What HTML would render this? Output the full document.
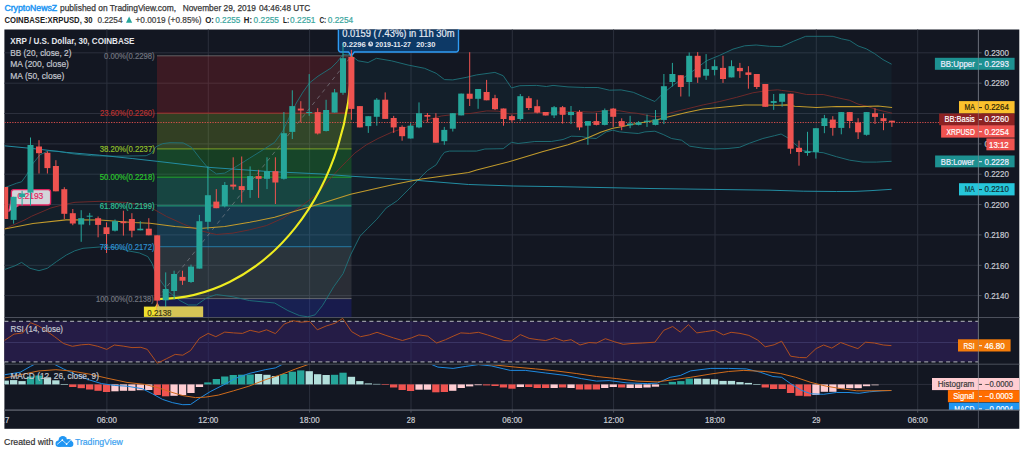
<!DOCTYPE html><html><head><meta charset="utf-8"><title>XRPUSD chart</title>
<style>html,body{margin:0;padding:0;background:#fff;}svg{display:block;font-family:"Liberation Sans",sans-serif;}</style></head><body>
<svg width="1024" height="454" viewBox="0 0 1024 454">
<defs>
<clipPath id="cm"><rect x="4.4" y="29.5" width="974.0" height="288.0"/></clipPath>
<clipPath id="cr"><rect x="4.4" y="317.5" width="974.0" height="46.7"/></clipPath>
<clipPath id="cd"><rect x="4.4" y="364.7" width="1014.9" height="45.4"/></clipPath>
<clipPath id="ca"><rect x="4.4" y="29.5" width="1014.9" height="399.3"/></clipPath>
</defs>
<rect x="0" y="0" width="1024" height="454" fill="#fff"/>
<text x="4.4" y="11.2" font-size="9" fill="#2196f3" font-weight="normal" text-anchor="start" textLength="52.7" lengthAdjust="spacingAndGlyphs" stroke="#2196f3" stroke-width="0.45">CryptoNewsZ</text>
<text x="60.0" y="11.2" font-size="9" fill="#383838" font-weight="normal" text-anchor="start" textLength="116.0" lengthAdjust="spacingAndGlyphs" stroke="#383838" stroke-width="0.25">published on TradingView.com,</text>
<text x="182.7" y="11.2" font-size="9" fill="#383838" font-weight="normal" text-anchor="start" textLength="73.3" lengthAdjust="spacingAndGlyphs" stroke="#383838" stroke-width="0.25">November 29, 2019</text>
<text x="258.9" y="11.2" font-size="9" fill="#383838" font-weight="normal" text-anchor="start" textLength="51.3" lengthAdjust="spacingAndGlyphs" stroke="#383838" stroke-width="0.25">04:46:48 UTC</text>
<text x="4.4" y="22.9" font-size="8.5" fill="#222" font-weight="bold" text-anchor="start" textLength="88.1" lengthAdjust="spacingAndGlyphs">COINBASE:XRPUSD, 30</text>
<text x="97.4" y="22.9" font-size="8.5" fill="#3c3c3c" font-weight="normal" text-anchor="start" textLength="25.1" lengthAdjust="spacingAndGlyphs" stroke="#3c3c3c" stroke-width="0.2">0.2254</text>
<polygon points="126,22.8 129.1,16.6 132.2,22.8" fill="#26a69a"/>
<text x="135.5" y="22.9" font-size="8.5" fill="#3c3c3c" font-weight="normal" text-anchor="start" textLength="66.1" lengthAdjust="spacingAndGlyphs" stroke="#3c3c3c" stroke-width="0.2">+0.0019 (+0.85%)</text>
<text x="205.2" y="22.9" font-size="8.5" fill="#222" font-weight="bold" text-anchor="start" textLength="8.8" lengthAdjust="spacingAndGlyphs">O:</text>
<text x="215.3" y="22.9" font-size="8.5" fill="#3aa69e" font-weight="normal" text-anchor="start" textLength="25.0" lengthAdjust="spacingAndGlyphs" stroke="#3aa69e" stroke-width="0.2">0.2255</text>
<text x="243.8" y="22.9" font-size="8.5" fill="#222" font-weight="bold" text-anchor="start" textLength="8.2" lengthAdjust="spacingAndGlyphs">H:</text>
<text x="253.6" y="22.9" font-size="8.5" fill="#3aa69e" font-weight="normal" text-anchor="start" textLength="25.4" lengthAdjust="spacingAndGlyphs" stroke="#3aa69e" stroke-width="0.2">0.2255</text>
<text x="282.9" y="22.9" font-size="8.5" fill="#222" font-weight="bold" text-anchor="start" textLength="6.2" lengthAdjust="spacingAndGlyphs">L:</text>
<text x="290.1" y="22.9" font-size="8.5" fill="#3aa69e" font-weight="normal" text-anchor="start" textLength="25.4" lengthAdjust="spacingAndGlyphs" stroke="#3aa69e" stroke-width="0.2">0.2251</text>
<text x="319.4" y="22.9" font-size="8.5" fill="#222" font-weight="bold" text-anchor="start" textLength="6.9" lengthAdjust="spacingAndGlyphs">C:</text>
<text x="327.8" y="22.9" font-size="8.5" fill="#3aa69e" font-weight="normal" text-anchor="start" textLength="25.4" lengthAdjust="spacingAndGlyphs" stroke="#3aa69e" stroke-width="0.2">0.2254</text>
<rect x="4.4" y="29.5" width="1014.9" height="399.3" fill="#131722"/>
<g stroke="#2c303d" stroke-width="1">
<line x1="106.9" y1="29.5" x2="106.9" y2="410.1"/>
<line x1="208.3" y1="29.5" x2="208.3" y2="410.1"/>
<line x1="309.6" y1="29.5" x2="309.6" y2="410.1"/>
<line x1="411.0" y1="29.5" x2="411.0" y2="410.1"/>
<line x1="512.3" y1="29.5" x2="512.3" y2="410.1"/>
<line x1="613.6" y1="29.5" x2="613.6" y2="410.1"/>
<line x1="715.0" y1="29.5" x2="715.0" y2="410.1"/>
<line x1="816.3" y1="29.5" x2="816.3" y2="410.1"/>
<line x1="917.7" y1="29.5" x2="917.7" y2="410.1"/>
<line x1="4.4" y1="52.8" x2="978.4" y2="52.8"/>
<line x1="4.4" y1="83.2" x2="978.4" y2="83.2"/>
<line x1="4.4" y1="113.5" x2="978.4" y2="113.5"/>
<line x1="4.4" y1="143.9" x2="978.4" y2="143.9"/>
<line x1="4.4" y1="174.2" x2="978.4" y2="174.2"/>
<line x1="4.4" y1="204.6" x2="978.4" y2="204.6"/>
<line x1="4.4" y1="234.9" x2="978.4" y2="234.9"/>
<line x1="4.4" y1="265.3" x2="978.4" y2="265.3"/>
<line x1="4.4" y1="295.6" x2="978.4" y2="295.6"/>
<line x1="4.4" y1="342.5" x2="978.4" y2="342.5"/>
<line x1="4.4" y1="384.4" x2="978.4" y2="384.4"/>
</g>
<g clip-path="url(#cm)">
<polygon points="4.4,187.8 16.6,183.2 21.6,181.8 26.6,174.9 33.2,163.2 39.9,154.9 48.2,150.8 58.1,151.3 74.8,154.1 91.4,155.7 116.3,156.2 146.2,155.7 151.2,153.3 156.1,146.6 162.8,143.6 170.0,142.7 183.2,142.9 191.5,147.3 199.8,158.1 208.1,168.1 216.4,173.9 224.8,173.1 236.4,166.4 249.7,158.1 263.0,149.8 274.6,142.4 282.9,130.7 291.2,113.3 296.3,103.0 303.0,92.0 309.6,82.8 318.0,76.2 331.2,67.9 337.8,61.2 342.8,54.6 347.8,54.2 351.0,55.5 358.1,60.8 368.1,62.5 376.4,58.3 391.4,60.8 408.0,65.0 424.6,68.3 436.2,73.3 444.5,79.6 452.8,79.9 466.1,77.4 476.6,74.9 494.9,72.4 503.2,75.7 511.5,87.9 519.8,85.7 536.4,85.4 546.4,86.5 553.0,85.4 568.0,86.9 584.6,87.5 597.9,87.5 609.5,90.2 621.1,89.9 633.3,92.3 644.9,97.3 654.9,101.5 663.2,93.2 674.8,84.0 686.4,75.7 694.8,69.6 706.4,60.8 719.7,55.3 733.0,49.1 744.6,45.8 756.2,45.0 769.5,46.3 781.6,46.6 793.3,41.3 805.7,36.3 833.1,36.3 841.4,38.8 849.7,40.5 858.0,45.9 866.3,48.8 874.7,53.7 883.0,59.6 891.6,64.2 891.6,161.3 876.3,162.1 863.0,162.1 849.7,160.2 836.4,156.7 823.2,152.7 813.2,151.9 803.2,150.7 794.9,144.0 788.3,138.2 781.1,134.0 774.5,135.7 762.9,138.5 749.6,143.2 739.6,147.3 728.0,148.5 714.7,149.0 703.1,148.2 689.8,146.2 681.5,140.2 671.5,138.5 663.2,134.5 654.9,131.2 644.9,131.9 638.3,133.5 630.0,132.9 619.5,131.9 612.8,130.2 606.2,131.9 596.2,138.5 587.9,137.9 581.3,136.5 571.3,136.2 563.0,139.5 551.4,141.5 534.8,141.5 518.1,143.5 511.5,142.3 503.2,148.7 484.9,149.0 476.6,151.1 466.1,151.1 449.5,151.1 444.5,152.3 441.2,156.5 436.2,164.8 427.4,170.6 412.4,185.6 397.4,200.6 386.2,208.0 376.8,219.3 367.4,228.7 360.0,236.2 350.6,254.9 343.1,273.6 333.7,286.8 322.5,305.5 315.0,314.9 307.8,316.8 299.5,315.6 287.9,310.6 274.6,303.0 249.7,300.6 233.0,296.8 216.4,294.5 206.5,298.0 196.5,305.0 188.2,305.0 180.0,300.6 168.3,291.5 160.0,280.0 154.5,270.0 152.0,263.3 147.8,256.6 139.5,253.0 128.0,250.8 116.3,247.5 99.7,247.0 83.0,248.3 74.8,250.8 66.4,255.0 56.5,261.6 47.3,268.3 39.0,270.7 30.0,268.3 21.6,262.4 15.0,265.8 4.4,269.6" fill="#1f9aa8" fill-opacity="0.065"/>
<path d="M155,307 L157.4,302.5 L159.8,307 Z" fill="#efe02f"/>
<rect x="143.9" y="306.6" width="59.2" height="10.3" fill="#efe02f"/>
<rect x="157.0" y="55.8" width="194.5" height="57.3" fill="rgb(204,40,40)" fill-opacity="0.22"/>
<rect x="157.0" y="113.1" width="194.5" height="35.7" fill="rgb(165,208,40)" fill-opacity="0.22"/>
<rect x="157.0" y="148.9" width="194.5" height="28.4" fill="rgb(40,204,40)" fill-opacity="0.22"/>
<rect x="157.0" y="177.2" width="194.5" height="28.7" fill="rgb(40,204,149)" fill-opacity="0.22"/>
<rect x="157.0" y="205.9" width="194.5" height="40.8" fill="rgb(40,149,204)" fill-opacity="0.22"/>
<rect x="157.0" y="246.7" width="194.5" height="52.0" fill="rgb(128,128,128)" fill-opacity="0.22"/>
<rect x="157.0" y="298.6" width="194.5" height="18.9" fill="rgb(40,40,204)" fill-opacity="0.25"/>
<line x1="157.0" y1="55.8" x2="351.5" y2="55.8" stroke="rgb(128,128,128)" stroke-width="1" stroke-opacity="0.7"/>
<line x1="157.0" y1="113.1" x2="351.5" y2="113.1" stroke="rgb(204,40,40)" stroke-width="1" stroke-opacity="0.7"/>
<line x1="157.0" y1="148.9" x2="351.5" y2="148.9" stroke="rgb(165,208,40)" stroke-width="1" stroke-opacity="0.7"/>
<line x1="157.0" y1="177.2" x2="351.5" y2="177.2" stroke="rgb(40,204,40)" stroke-width="1" stroke-opacity="0.7"/>
<line x1="157.0" y1="205.9" x2="351.5" y2="205.9" stroke="rgb(40,204,149)" stroke-width="1" stroke-opacity="0.7"/>
<line x1="157.0" y1="246.7" x2="351.5" y2="246.7" stroke="rgb(40,149,204)" stroke-width="1" stroke-opacity="0.7"/>
<line x1="157.0" y1="298.6" x2="351.5" y2="298.6" stroke="rgb(128,128,128)" stroke-width="1" stroke-opacity="0.7"/>
<line x1="157.3" y1="298.6" x2="351.5" y2="56" stroke="#8a8d96" stroke-width="1" stroke-dasharray="4,4" stroke-opacity="0.6"/>
<line x1="4.4" y1="122.5" x2="978.4" y2="122.5" stroke="#ef5350" stroke-opacity="0.85" stroke-width="1" stroke-dasharray="1.3,1.3"/>
<polyline points="4.4,187.8 16.6,183.2 21.6,181.8 26.6,174.9 33.2,163.2 39.9,154.9 48.2,150.8 58.1,151.3 74.8,154.1 91.4,155.7 116.3,156.2 146.2,155.7 151.2,153.3 156.1,146.6 162.8,143.6 170.0,142.7 183.2,142.9 191.5,147.3 199.8,158.1 208.1,168.1 216.4,173.9 224.8,173.1 236.4,166.4 249.7,158.1 263.0,149.8 274.6,142.4 282.9,130.7 291.2,113.3 296.3,103.0 303.0,92.0 309.6,82.8 318.0,76.2 331.2,67.9 337.8,61.2 342.8,54.6 347.8,54.2 351.0,55.5 358.1,60.8 368.1,62.5 376.4,58.3 391.4,60.8 408.0,65.0 424.6,68.3 436.2,73.3 444.5,79.6 452.8,79.9 466.1,77.4 476.6,74.9 494.9,72.4 503.2,75.7 511.5,87.9 519.8,85.7 536.4,85.4 546.4,86.5 553.0,85.4 568.0,86.9 584.6,87.5 597.9,87.5 609.5,90.2 621.1,89.9 633.3,92.3 644.9,97.3 654.9,101.5 663.2,93.2 674.8,84.0 686.4,75.7 694.8,69.6 706.4,60.8 719.7,55.3 733.0,49.1 744.6,45.8 756.2,45.0 769.5,46.3 781.6,46.6 793.3,41.3 805.7,36.3 833.1,36.3 841.4,38.8 849.7,40.5 858.0,45.9 866.3,48.8 874.7,53.7 883.0,59.6 891.6,64.2" fill="none" stroke="#1f747c" stroke-width="0.9"/>
<polyline points="4.4,269.6 15.0,265.8 21.6,262.4 30.0,268.3 39.0,270.7 47.3,268.3 56.5,261.6 66.4,255.0 74.8,250.8 83.0,248.3 99.7,247.0 116.3,247.5 128.0,250.8 139.5,253.0 147.8,256.6 152.0,263.3 154.5,270.0 160.0,280.0 168.3,291.5 180.0,300.6 188.2,305.0 196.5,305.0 206.5,298.0 216.4,294.5 233.0,296.8 249.7,300.6 274.6,303.0 287.9,310.6 299.5,315.6 307.8,316.8 315.0,314.9 322.5,305.5 333.7,286.8 343.1,273.6 350.6,254.9 360.0,236.2 367.4,228.7 376.8,219.3 386.2,208.0 397.4,200.6 412.4,185.6 427.4,170.6 436.2,164.8 441.2,156.5 444.5,152.3 449.5,151.1 466.1,151.1 476.6,151.1 484.9,149.0 503.2,148.7 511.5,142.3 518.1,143.5 534.8,141.5 551.4,141.5 563.0,139.5 571.3,136.2 581.3,136.5 587.9,137.9 596.2,138.5 606.2,131.9 612.8,130.2 619.5,131.9 630.0,132.9 638.3,133.5 644.9,131.9 654.9,131.2 663.2,134.5 671.5,138.5 681.5,140.2 689.8,146.2 703.1,148.2 714.7,149.0 728.0,148.5 739.6,147.3 749.6,143.2 762.9,138.5 774.5,135.7 781.1,134.0 788.3,138.2 794.9,144.0 803.2,150.7 813.2,151.9 823.2,152.7 836.4,156.7 849.7,160.2 863.0,162.1 876.3,162.1 891.6,161.3" fill="none" stroke="#1f747c" stroke-width="0.9"/>
<polyline points="4.4,229.0 8.5,227.1 25.0,219.8 31.7,216.2 50.8,208.0 64.0,204.5 75.0,202.3 100.0,201.3 125.0,202.4 150.0,205.7 153.3,209.0 166.6,216.5 183.2,224.0 199.8,230.6 216.4,234.5 233.0,233.1 249.7,229.8 266.3,225.6 282.9,218.2 299.5,207.4 316.0,195.0 329.0,180.0 338.2,170.0 346.5,161.4 354.8,153.1 366.4,144.8 378.0,138.5 391.4,132.4 408.0,126.6 424.6,120.7 441.2,116.0 457.8,114.0 470.0,113.5 486.6,110.9 498.2,111.2 509.8,114.0 526.4,113.0 543.1,112.6 576.3,111.5 592.9,112.2 609.5,110.3 619.5,110.8 630.0,112.6 636.6,113.2 653.2,116.6 659.9,116.3 669.8,113.0 686.4,109.0 703.1,104.9 719.7,101.5 736.3,97.4 752.9,92.8 766.2,90.7 777.8,89.8 781.6,90.4 794.9,92.0 806.5,94.5 823.2,94.5 836.4,97.5 849.7,100.3 858.0,104.1 866.3,106.1 878.0,109.9 892.1,113.2" fill="none" stroke="#762a2a" stroke-width="0.9"/>
<polyline points="4.4,145.8 33.2,148.6 66.4,152.4 99.7,155.2 132.9,158.6 157.8,161.4 208.1,167.3 266.3,171.4 320.0,173.9 350.6,176.2 412.4,180.0 468.6,184.5 513.6,186.0 560.0,186.7 650.0,188.5 770.0,190.2 803.2,191.2 836.4,191.5 855.0,191.4 870.0,190.7 891.6,189.3" fill="none" stroke="#238da2" stroke-width="1"/>
<polyline points="4.4,229.0 33.0,223.5 66.0,219.9 100.0,220.0 133.0,222.4 150.0,223.2 175.0,226.5 199.8,228.5 224.8,226.5 249.7,222.3 274.6,217.3 300.0,209.8 322.0,203.3 350.6,194.2 393.7,184.5 419.9,179.2 468.6,172.5 476.6,170.0 513.2,160.6 543.1,151.5 568.0,144.8 586.2,138.5 601.2,131.9 612.8,128.2 620.0,126.9 636.6,123.6 653.2,120.7 669.8,116.6 686.4,112.4 703.1,109.1 719.7,107.5 744.6,105.0 761.2,105.0 777.8,105.2 786.6,104.9 794.9,106.3 816.5,107.4 836.4,106.6 861.4,106.6 878.0,106.1 892.1,107.4" fill="none" stroke="#c29b2c" stroke-width="1.05"/>
<path d="M11.4,198 L8.7,211.5 L19,205.6 Z" fill="#d2d5da" stroke="#e3245f" stroke-width="1"/>
<rect x="11.4" y="189.6" width="39.2" height="15.4" rx="2.5" fill="#d2d5da" stroke="#e3245f" stroke-width="1.3"/>
<text x="17.5" y="199.4" font-size="9" fill="#e3245f" font-weight="normal" text-anchor="start" textLength="25.8" lengthAdjust="spacingAndGlyphs" stroke="#e3245f" stroke-width="0.2">0.2193</text>
<path d="M158.5,299 A193,242 0 0 0 351.5,57" fill="none" stroke="#eeec20" stroke-width="2.1" stroke-linecap="round"/>
<path d="M340.9,24 H456 a2.5,2.5 0 0 1 2.5,2.5 V49.5 a2.5,2.5 0 0 1 -2.5,2.5 H354.3 L351.4,56 L348.5,52 H340.9 a2.5,2.5 0 0 1 -2.5,-2.5 V26.5 a2.5,2.5 0 0 1 2.5,-2.5 Z" fill="#0d3966" stroke="#2f9cf5" stroke-width="1.4"/>
<text x="342.3" y="36.8" font-size="10" fill="#e4e9f2" font-weight="normal" text-anchor="start" textLength="112.3" lengthAdjust="spacingAndGlyphs" stroke="#e4e9f2" stroke-width="0.2">0.0159 (7.43%) in 11h 30m</text>
<text x="342.3" y="46.8" font-size="8" fill="#e4e9f2" font-weight="bold" text-anchor="start" textLength="23.5" lengthAdjust="spacingAndGlyphs">0.2296</text>
<circle cx="370.6" cy="44" r="2.5" fill="#cfd6e2"/><path d="M370.6,42.3 V44 H372" stroke="#0d3966" stroke-width="0.8" fill="none"/>
<text x="375.3" y="46.8" font-size="8" fill="#e4e9f2" font-weight="bold" text-anchor="start" textLength="35.7" lengthAdjust="spacingAndGlyphs">2019-11-27</text>
<text x="416.2" y="46.8" font-size="8" fill="#e4e9f2" font-weight="bold" text-anchor="start" textLength="19.1" lengthAdjust="spacingAndGlyphs">20:30</text>
<line x1="5.2" y1="187.0" x2="5.2" y2="219.0" stroke="#ef5350" stroke-width="1"/>
<rect x="2.2" y="187.0" width="6" height="32.0" fill="#ef5350"/>
<line x1="13.6" y1="196.8" x2="13.6" y2="223.7" stroke="#26a69a" stroke-width="1"/>
<rect x="10.6" y="196.8" width="6" height="23.1" fill="#26a69a"/>
<line x1="22.1" y1="190.8" x2="22.1" y2="205.6" stroke="#26a69a" stroke-width="1"/>
<rect x="19.1" y="193.5" width="6" height="3.5" fill="#26a69a"/>
<line x1="30.5" y1="137.5" x2="30.5" y2="205.6" stroke="#26a69a" stroke-width="1"/>
<rect x="27.5" y="145.0" width="6" height="47.6" fill="#26a69a"/>
<line x1="39.0" y1="140.2" x2="39.0" y2="173.5" stroke="#ef5350" stroke-width="1"/>
<rect x="36.0" y="146.5" width="6" height="6.7" fill="#ef5350"/>
<line x1="47.4" y1="151.3" x2="47.4" y2="173.5" stroke="#ef5350" stroke-width="1"/>
<rect x="44.4" y="152.8" width="6" height="15.3" fill="#ef5350"/>
<line x1="55.9" y1="160.2" x2="55.9" y2="191.3" stroke="#ef5350" stroke-width="1"/>
<rect x="52.9" y="166.0" width="6" height="25.3" fill="#ef5350"/>
<line x1="64.3" y1="187.2" x2="64.3" y2="219.0" stroke="#ef5350" stroke-width="1"/>
<rect x="61.3" y="189.2" width="6" height="24.6" fill="#ef5350"/>
<line x1="72.8" y1="209.0" x2="72.8" y2="225.2" stroke="#ef5350" stroke-width="1"/>
<rect x="69.8" y="213.2" width="6" height="10.3" fill="#ef5350"/>
<line x1="81.2" y1="210.2" x2="81.2" y2="241.8" stroke="#26a69a" stroke-width="1"/>
<rect x="78.2" y="218.2" width="6" height="6.3" fill="#26a69a"/>
<line x1="89.7" y1="212.9" x2="89.7" y2="225.2" stroke="#26a69a" stroke-width="1"/>
<rect x="86.7" y="215.7" width="6" height="1.0" fill="#26a69a"/>
<line x1="98.1" y1="216.5" x2="98.1" y2="237.3" stroke="#ef5350" stroke-width="1"/>
<rect x="95.1" y="218.2" width="6" height="6.7" fill="#ef5350"/>
<line x1="106.5" y1="222.4" x2="106.5" y2="253.0" stroke="#ef5350" stroke-width="1"/>
<rect x="103.5" y="227.3" width="6" height="6.7" fill="#ef5350"/>
<line x1="115.0" y1="219.5" x2="115.0" y2="231.5" stroke="#26a69a" stroke-width="1"/>
<rect x="112.0" y="221.2" width="6" height="9.5" fill="#26a69a"/>
<line x1="123.4" y1="210.7" x2="123.4" y2="235.6" stroke="#ef5350" stroke-width="1"/>
<rect x="120.4" y="221.5" width="6" height="1.7" fill="#ef5350"/>
<line x1="131.9" y1="213.2" x2="131.9" y2="237.3" stroke="#ef5350" stroke-width="1"/>
<rect x="128.9" y="219.0" width="6" height="11.7" fill="#ef5350"/>
<line x1="140.3" y1="221.2" x2="140.3" y2="230.3" stroke="#26a69a" stroke-width="1"/>
<rect x="137.3" y="228.7" width="6" height="1.6" fill="#26a69a"/>
<line x1="148.8" y1="218.2" x2="148.8" y2="235.3" stroke="#ef5350" stroke-width="1"/>
<rect x="145.8" y="228.7" width="6" height="6.6" fill="#ef5350"/>
<line x1="157.2" y1="235.3" x2="157.2" y2="310.0" stroke="#ef5350" stroke-width="1"/>
<rect x="154.2" y="235.3" width="6" height="65.3" fill="#ef5350"/>
<line x1="165.7" y1="272.4" x2="165.7" y2="310.6" stroke="#26a69a" stroke-width="1"/>
<rect x="162.7" y="289.0" width="6" height="11.3" fill="#26a69a"/>
<line x1="174.1" y1="270.7" x2="174.1" y2="299.5" stroke="#26a69a" stroke-width="1"/>
<rect x="171.1" y="274.0" width="6" height="17.0" fill="#26a69a"/>
<line x1="182.5" y1="270.7" x2="182.5" y2="284.9" stroke="#ef5350" stroke-width="1"/>
<rect x="179.5" y="276.9" width="6" height="3.8" fill="#ef5350"/>
<line x1="191.0" y1="264.6" x2="191.0" y2="282.9" stroke="#26a69a" stroke-width="1"/>
<rect x="188.0" y="266.6" width="6" height="15.4" fill="#26a69a"/>
<line x1="199.4" y1="214.9" x2="199.4" y2="268.6" stroke="#26a69a" stroke-width="1"/>
<rect x="196.4" y="221.2" width="6" height="47.4" fill="#26a69a"/>
<line x1="207.9" y1="166.4" x2="207.9" y2="229.8" stroke="#26a69a" stroke-width="1"/>
<rect x="204.9" y="195.2" width="6" height="26.6" fill="#26a69a"/>
<line x1="216.3" y1="189.1" x2="216.3" y2="208.2" stroke="#ef5350" stroke-width="1"/>
<rect x="213.3" y="201.6" width="6" height="6.6" fill="#ef5350"/>
<line x1="224.8" y1="182.0" x2="224.8" y2="207.4" stroke="#26a69a" stroke-width="1"/>
<rect x="221.8" y="185.0" width="6" height="21.2" fill="#26a69a"/>
<line x1="233.2" y1="157.3" x2="233.2" y2="189.6" stroke="#ef5350" stroke-width="1"/>
<rect x="230.2" y="184.6" width="6" height="2.0" fill="#ef5350"/>
<line x1="241.7" y1="156.5" x2="241.7" y2="202.7" stroke="#ef5350" stroke-width="1"/>
<rect x="238.7" y="186.1" width="6" height="3.9" fill="#ef5350"/>
<line x1="250.1" y1="166.4" x2="250.1" y2="197.9" stroke="#26a69a" stroke-width="1"/>
<rect x="247.1" y="176.1" width="6" height="13.9" fill="#26a69a"/>
<line x1="258.6" y1="169.8" x2="258.6" y2="197.9" stroke="#ef5350" stroke-width="1"/>
<rect x="255.6" y="176.1" width="6" height="2.7" fill="#ef5350"/>
<line x1="267.0" y1="157.3" x2="267.0" y2="189.1" stroke="#26a69a" stroke-width="1"/>
<rect x="264.0" y="171.2" width="6" height="7.6" fill="#26a69a"/>
<line x1="275.4" y1="157.3" x2="275.4" y2="204.0" stroke="#ef5350" stroke-width="1"/>
<rect x="272.4" y="171.2" width="6" height="11.3" fill="#ef5350"/>
<line x1="283.9" y1="112.0" x2="283.9" y2="179.6" stroke="#26a69a" stroke-width="1"/>
<rect x="280.9" y="133.2" width="6" height="45.6" fill="#26a69a"/>
<line x1="292.3" y1="90.3" x2="292.3" y2="139.0" stroke="#26a69a" stroke-width="1"/>
<rect x="289.3" y="106.1" width="6" height="25.8" fill="#26a69a"/>
<line x1="300.8" y1="101.2" x2="300.8" y2="122.4" stroke="#ef5350" stroke-width="1"/>
<rect x="297.8" y="108.6" width="6" height="1.9" fill="#ef5350"/>
<line x1="309.2" y1="74.1" x2="309.2" y2="115.8" stroke="#26a69a" stroke-width="1"/>
<rect x="306.2" y="112.0" width="6" height="1.0" fill="#26a69a"/>
<line x1="317.7" y1="108.2" x2="317.7" y2="134.5" stroke="#ef5350" stroke-width="1"/>
<rect x="314.7" y="112.1" width="6" height="21.4" fill="#ef5350"/>
<line x1="326.1" y1="99.8" x2="326.1" y2="131.5" stroke="#26a69a" stroke-width="1"/>
<rect x="323.1" y="110.0" width="6" height="21.0" fill="#26a69a"/>
<line x1="334.6" y1="89.0" x2="334.6" y2="112.6" stroke="#26a69a" stroke-width="1"/>
<rect x="331.6" y="92.4" width="6" height="20.2" fill="#26a69a"/>
<line x1="343.0" y1="43.5" x2="343.0" y2="94.8" stroke="#26a69a" stroke-width="1"/>
<rect x="340.0" y="58.2" width="6" height="34.6" fill="#26a69a"/>
<line x1="351.4" y1="49.8" x2="351.4" y2="119.8" stroke="#ef5350" stroke-width="1"/>
<rect x="348.4" y="57.0" width="6" height="51.9" fill="#ef5350"/>
<line x1="359.9" y1="106.1" x2="359.9" y2="127.4" stroke="#ef5350" stroke-width="1"/>
<rect x="356.9" y="106.1" width="6" height="21.3" fill="#ef5350"/>
<line x1="368.3" y1="116.2" x2="368.3" y2="132.9" stroke="#26a69a" stroke-width="1"/>
<rect x="365.3" y="116.2" width="6" height="9.9" fill="#26a69a"/>
<line x1="376.8" y1="98.1" x2="376.8" y2="125.7" stroke="#26a69a" stroke-width="1"/>
<rect x="373.8" y="99.7" width="6" height="17.1" fill="#26a69a"/>
<line x1="385.2" y1="92.4" x2="385.2" y2="118.9" stroke="#ef5350" stroke-width="1"/>
<rect x="382.2" y="99.7" width="6" height="19.2" fill="#ef5350"/>
<line x1="393.7" y1="115.9" x2="393.7" y2="132.9" stroke="#ef5350" stroke-width="1"/>
<rect x="390.7" y="118.0" width="6" height="9.4" fill="#ef5350"/>
<line x1="402.1" y1="125.4" x2="402.1" y2="140.7" stroke="#ef5350" stroke-width="1"/>
<rect x="399.1" y="126.9" width="6" height="9.3" fill="#ef5350"/>
<line x1="410.6" y1="123.2" x2="410.6" y2="138.5" stroke="#26a69a" stroke-width="1"/>
<rect x="407.6" y="125.7" width="6" height="12.8" fill="#26a69a"/>
<line x1="419.0" y1="102.4" x2="419.0" y2="128.2" stroke="#26a69a" stroke-width="1"/>
<rect x="416.0" y="113.2" width="6" height="14.2" fill="#26a69a"/>
<line x1="427.4" y1="113.0" x2="427.4" y2="122.4" stroke="#ef5350" stroke-width="1"/>
<rect x="424.4" y="115.0" width="6" height="1.7" fill="#ef5350"/>
<line x1="435.9" y1="113.2" x2="435.9" y2="142.7" stroke="#ef5350" stroke-width="1"/>
<rect x="432.9" y="118.0" width="6" height="24.7" fill="#ef5350"/>
<line x1="444.3" y1="126.9" x2="444.3" y2="144.8" stroke="#26a69a" stroke-width="1"/>
<rect x="441.3" y="129.9" width="6" height="11.3" fill="#26a69a"/>
<line x1="452.8" y1="113.2" x2="452.8" y2="131.5" stroke="#26a69a" stroke-width="1"/>
<rect x="449.8" y="113.2" width="6" height="15.5" fill="#26a69a"/>
<line x1="461.2" y1="93.6" x2="461.2" y2="115.4" stroke="#26a69a" stroke-width="1"/>
<rect x="458.2" y="93.6" width="6" height="21.8" fill="#26a69a"/>
<line x1="469.7" y1="52.2" x2="469.7" y2="106.0" stroke="#ef5350" stroke-width="1"/>
<rect x="466.7" y="93.7" width="6" height="5.1" fill="#ef5350"/>
<line x1="478.1" y1="89.0" x2="478.1" y2="108.8" stroke="#26a69a" stroke-width="1"/>
<rect x="475.1" y="89.0" width="6" height="9.8" fill="#26a69a"/>
<line x1="486.6" y1="79.9" x2="486.6" y2="100.3" stroke="#ef5350" stroke-width="1"/>
<rect x="483.6" y="92.0" width="6" height="8.3" fill="#ef5350"/>
<line x1="495.0" y1="94.8" x2="495.0" y2="110.1" stroke="#ef5350" stroke-width="1"/>
<rect x="492.0" y="98.2" width="6" height="11.0" fill="#ef5350"/>
<line x1="503.5" y1="108.5" x2="503.5" y2="125.7" stroke="#ef5350" stroke-width="1"/>
<rect x="500.5" y="108.5" width="6" height="10.5" fill="#ef5350"/>
<line x1="511.9" y1="114.7" x2="511.9" y2="121.9" stroke="#ef5350" stroke-width="1"/>
<rect x="508.9" y="116.1" width="6" height="4.1" fill="#ef5350"/>
<line x1="520.3" y1="94.0" x2="520.3" y2="120.7" stroke="#26a69a" stroke-width="1"/>
<rect x="517.3" y="96.2" width="6" height="22.8" fill="#26a69a"/>
<line x1="528.8" y1="96.2" x2="528.8" y2="110.0" stroke="#ef5350" stroke-width="1"/>
<rect x="525.8" y="98.2" width="6" height="9.8" fill="#ef5350"/>
<line x1="537.2" y1="99.7" x2="537.2" y2="113.4" stroke="#ef5350" stroke-width="1"/>
<rect x="534.2" y="106.2" width="6" height="6.4" fill="#ef5350"/>
<line x1="545.7" y1="112.0" x2="545.7" y2="115.5" stroke="#ef5350" stroke-width="1"/>
<rect x="542.7" y="112.0" width="6" height="3.5" fill="#ef5350"/>
<line x1="554.1" y1="106.0" x2="554.1" y2="118.0" stroke="#26a69a" stroke-width="1"/>
<rect x="551.1" y="107.2" width="6" height="8.2" fill="#26a69a"/>
<line x1="562.6" y1="106.0" x2="562.6" y2="123.6" stroke="#ef5350" stroke-width="1"/>
<rect x="559.6" y="107.2" width="6" height="7.6" fill="#ef5350"/>
<line x1="571.0" y1="106.0" x2="571.0" y2="124.0" stroke="#26a69a" stroke-width="1"/>
<rect x="568.0" y="112.0" width="6" height="3.1" fill="#26a69a"/>
<line x1="579.5" y1="110.1" x2="579.5" y2="130.2" stroke="#ef5350" stroke-width="1"/>
<rect x="576.5" y="112.0" width="6" height="15.4" fill="#ef5350"/>
<line x1="587.9" y1="121.1" x2="587.9" y2="144.8" stroke="#26a69a" stroke-width="1"/>
<rect x="584.9" y="121.1" width="6" height="4.6" fill="#26a69a"/>
<line x1="596.4" y1="112.9" x2="596.4" y2="125.4" stroke="#ef5350" stroke-width="1"/>
<rect x="593.4" y="121.1" width="6" height="3.8" fill="#ef5350"/>
<line x1="604.8" y1="108.5" x2="604.8" y2="125.4" stroke="#26a69a" stroke-width="1"/>
<rect x="601.8" y="110.2" width="6" height="14.7" fill="#26a69a"/>
<line x1="613.2" y1="108.0" x2="613.2" y2="126.9" stroke="#ef5350" stroke-width="1"/>
<rect x="610.2" y="108.6" width="6" height="8.2" fill="#ef5350"/>
<line x1="621.7" y1="118.3" x2="621.7" y2="130.2" stroke="#ef5350" stroke-width="1"/>
<rect x="618.7" y="121.1" width="6" height="5.1" fill="#ef5350"/>
<line x1="630.1" y1="115.8" x2="630.1" y2="128.2" stroke="#26a69a" stroke-width="1"/>
<rect x="627.1" y="123.5" width="6" height="1.8" fill="#26a69a"/>
<line x1="638.6" y1="121.1" x2="638.6" y2="125.4" stroke="#26a69a" stroke-width="1"/>
<rect x="635.6" y="122.4" width="6" height="2.5" fill="#26a69a"/>
<line x1="647.0" y1="114.6" x2="647.0" y2="126.9" stroke="#26a69a" stroke-width="1"/>
<rect x="644.0" y="120.7" width="6" height="1.2" fill="#26a69a"/>
<line x1="655.5" y1="110.0" x2="655.5" y2="125.4" stroke="#26a69a" stroke-width="1"/>
<rect x="652.5" y="119.4" width="6" height="5.5" fill="#26a69a"/>
<line x1="663.9" y1="74.0" x2="663.9" y2="124.1" stroke="#26a69a" stroke-width="1"/>
<rect x="660.9" y="86.2" width="6" height="33.7" fill="#26a69a"/>
<line x1="672.4" y1="62.9" x2="672.4" y2="86.5" stroke="#26a69a" stroke-width="1"/>
<rect x="669.4" y="74.0" width="6" height="8.0" fill="#26a69a"/>
<line x1="680.8" y1="75.2" x2="680.8" y2="96.5" stroke="#ef5350" stroke-width="1"/>
<rect x="677.8" y="75.2" width="6" height="11.8" fill="#ef5350"/>
<line x1="689.2" y1="52.5" x2="689.2" y2="96.5" stroke="#26a69a" stroke-width="1"/>
<rect x="686.2" y="55.8" width="6" height="26.2" fill="#26a69a"/>
<line x1="697.7" y1="52.1" x2="697.7" y2="82.9" stroke="#ef5350" stroke-width="1"/>
<rect x="694.7" y="55.8" width="6" height="21.6" fill="#ef5350"/>
<line x1="706.1" y1="54.1" x2="706.1" y2="79.9" stroke="#26a69a" stroke-width="1"/>
<rect x="703.1" y="69.1" width="6" height="6.6" fill="#26a69a"/>
<line x1="714.6" y1="59.6" x2="714.6" y2="75.4" stroke="#26a69a" stroke-width="1"/>
<rect x="711.6" y="66.2" width="6" height="3.7" fill="#26a69a"/>
<line x1="723.0" y1="55.8" x2="723.0" y2="82.9" stroke="#ef5350" stroke-width="1"/>
<rect x="720.0" y="67.9" width="6" height="11.1" fill="#ef5350"/>
<line x1="731.5" y1="60.3" x2="731.5" y2="77.4" stroke="#26a69a" stroke-width="1"/>
<rect x="728.5" y="66.2" width="6" height="11.2" fill="#26a69a"/>
<line x1="739.9" y1="62.9" x2="739.9" y2="77.9" stroke="#ef5350" stroke-width="1"/>
<rect x="736.9" y="67.9" width="6" height="3.3" fill="#ef5350"/>
<line x1="748.4" y1="66.2" x2="748.4" y2="88.7" stroke="#ef5350" stroke-width="1"/>
<rect x="745.4" y="72.4" width="6" height="2.5" fill="#ef5350"/>
<line x1="756.8" y1="74.0" x2="756.8" y2="89.0" stroke="#ef5350" stroke-width="1"/>
<rect x="753.8" y="74.0" width="6" height="13.0" fill="#ef5350"/>
<line x1="765.3" y1="84.0" x2="765.3" y2="106.8" stroke="#ef5350" stroke-width="1"/>
<rect x="762.3" y="84.0" width="6" height="22.8" fill="#ef5350"/>
<line x1="773.7" y1="94.0" x2="773.7" y2="109.9" stroke="#26a69a" stroke-width="1"/>
<rect x="770.7" y="101.1" width="6" height="1.8" fill="#26a69a"/>
<line x1="782.1" y1="93.7" x2="782.1" y2="106.7" stroke="#26a69a" stroke-width="1"/>
<rect x="779.1" y="93.7" width="6" height="8.1" fill="#26a69a"/>
<line x1="790.6" y1="93.7" x2="790.6" y2="153.8" stroke="#ef5350" stroke-width="1"/>
<rect x="787.6" y="93.7" width="6" height="55.0" fill="#ef5350"/>
<line x1="799.0" y1="140.6" x2="799.0" y2="165.7" stroke="#ef5350" stroke-width="1"/>
<rect x="796.0" y="147.8" width="6" height="4.2" fill="#ef5350"/>
<line x1="807.5" y1="131.8" x2="807.5" y2="155.7" stroke="#26a69a" stroke-width="1"/>
<rect x="804.5" y="151.2" width="6" height="1.8" fill="#26a69a"/>
<line x1="815.9" y1="128.2" x2="815.9" y2="158.6" stroke="#26a69a" stroke-width="1"/>
<rect x="812.9" y="128.2" width="6" height="23.8" fill="#26a69a"/>
<line x1="824.4" y1="114.9" x2="824.4" y2="133.2" stroke="#26a69a" stroke-width="1"/>
<rect x="821.4" y="118.2" width="6" height="7.8" fill="#26a69a"/>
<line x1="832.8" y1="116.2" x2="832.8" y2="135.7" stroke="#ef5350" stroke-width="1"/>
<rect x="829.8" y="119.6" width="6" height="8.3" fill="#ef5350"/>
<line x1="841.3" y1="112.1" x2="841.3" y2="134.3" stroke="#26a69a" stroke-width="1"/>
<rect x="838.3" y="112.1" width="6" height="15.8" fill="#26a69a"/>
<line x1="849.7" y1="112.1" x2="849.7" y2="128.2" stroke="#ef5350" stroke-width="1"/>
<rect x="846.7" y="112.1" width="6" height="8.9" fill="#ef5350"/>
<line x1="858.1" y1="118.2" x2="858.1" y2="139.0" stroke="#ef5350" stroke-width="1"/>
<rect x="855.1" y="122.4" width="6" height="9.9" fill="#ef5350"/>
<line x1="866.6" y1="112.1" x2="866.6" y2="135.7" stroke="#26a69a" stroke-width="1"/>
<rect x="863.6" y="112.1" width="6" height="22.7" fill="#26a69a"/>
<line x1="875.0" y1="108.3" x2="875.0" y2="124.0" stroke="#ef5350" stroke-width="1"/>
<rect x="872.0" y="113.2" width="6" height="3.7" fill="#ef5350"/>
<line x1="883.5" y1="113.6" x2="883.5" y2="130.2" stroke="#ef5350" stroke-width="1"/>
<rect x="880.5" y="118.2" width="6" height="3.0" fill="#ef5350"/>
<line x1="891.9" y1="120.7" x2="891.9" y2="126.9" stroke="#ef5350" stroke-width="1"/>
<rect x="888.9" y="120.7" width="6" height="1.7" fill="#ef5350"/>
<rect x="157" y="306.6" width="46.1" height="10.3" fill="#d6c556"/>
<text x="104.1" y="59.0" font-size="8.5" fill="#70737e" font-weight="normal" text-anchor="start" textLength="50.6" lengthAdjust="spacingAndGlyphs" stroke="#70737e" stroke-width="0.2">0.00%(0.2298)</text>
<text x="99.9" y="116.3" font-size="8.5" fill="#b8302f" font-weight="normal" text-anchor="start" textLength="54.6" lengthAdjust="spacingAndGlyphs" stroke="#b8302f" stroke-width="0.2">23.60%(0.2260)</text>
<text x="99.7" y="152.1" font-size="8.5" fill="#8fbf2a" font-weight="normal" text-anchor="start" textLength="55.1" lengthAdjust="spacingAndGlyphs" stroke="#8fbf2a" stroke-width="0.2">38.20%(0.2237)</text>
<text x="99.7" y="180.4" font-size="8.5" fill="#2cc42c" font-weight="normal" text-anchor="start" textLength="55.1" lengthAdjust="spacingAndGlyphs" stroke="#2cc42c" stroke-width="0.2">50.00%(0.2218)</text>
<text x="99.7" y="209.1" font-size="8.5" fill="#2fbf93" font-weight="normal" text-anchor="start" textLength="54.8" lengthAdjust="spacingAndGlyphs" stroke="#2fbf93" stroke-width="0.2">61.80%(0.2199)</text>
<text x="99.7" y="249.9" font-size="8.5" fill="#2f8fcf" font-weight="normal" text-anchor="start" textLength="54.8" lengthAdjust="spacingAndGlyphs" stroke="#2f8fcf" stroke-width="0.2">78.60%(0.2172)</text>
<text x="96.0" y="301.8" font-size="8.5" fill="#71747e" font-weight="normal" text-anchor="start" textLength="57.7" lengthAdjust="spacingAndGlyphs" stroke="#71747e" stroke-width="0.2">100.00%(0.2138)</text>
<text x="147.3" y="315.6" font-size="9" fill="#3a3710" font-weight="normal" text-anchor="start" textLength="24.2" lengthAdjust="spacingAndGlyphs" stroke="#3a3710" stroke-width="0.2">0.2138</text>
<text x="10.3" y="44.1" font-size="8.5" fill="#e4e6ec" font-weight="bold" text-anchor="start" textLength="124.2" lengthAdjust="spacingAndGlyphs">XRP / U.S. Dollar, 30, COINBASE</text>
<text x="10.3" y="55.7" font-size="8.5" fill="#c3c6ce" font-weight="normal" text-anchor="start" textLength="61.1" lengthAdjust="spacingAndGlyphs" stroke="#c3c6ce" stroke-width="0.2">BB (20, close, 2)</text>
<text x="10.3" y="67.4" font-size="8.5" fill="#c3c6ce" font-weight="normal" text-anchor="start" textLength="58.6" lengthAdjust="spacingAndGlyphs" stroke="#c3c6ce" stroke-width="0.2">MA (200, close)</text>
<text x="10.3" y="79.0" font-size="8.5" fill="#c3c6ce" font-weight="normal" text-anchor="start" textLength="54.1" lengthAdjust="spacingAndGlyphs" stroke="#c3c6ce" stroke-width="0.2">MA (50, close)</text>
</g>
<rect x="4.4" y="321.4" width="974.0" height="40.4" fill="#251c46" fill-opacity="1"/>
<line x1="4.4" y1="342.5" x2="978.4" y2="342.5" stroke="#3a3463" stroke-width="1"/>
<g stroke="#2f2a55" stroke-width="1">
<line x1="106.9" y1="321.4" x2="106.9" y2="361.8"/>
<line x1="208.3" y1="321.4" x2="208.3" y2="361.8"/>
<line x1="309.6" y1="321.4" x2="309.6" y2="361.8"/>
<line x1="411.0" y1="321.4" x2="411.0" y2="361.8"/>
<line x1="512.3" y1="321.4" x2="512.3" y2="361.8"/>
<line x1="613.6" y1="321.4" x2="613.6" y2="361.8"/>
<line x1="715.0" y1="321.4" x2="715.0" y2="361.8"/>
<line x1="816.3" y1="321.4" x2="816.3" y2="361.8"/>
<line x1="917.7" y1="321.4" x2="917.7" y2="361.8"/>
</g>
<line x1="4.4" y1="321.4" x2="978.4" y2="321.4" stroke="#9698a2" stroke-width="1.35" stroke-dasharray="4,3.3"/>
<line x1="4.4" y1="361.8" x2="978.4" y2="361.8" stroke="#9698a2" stroke-width="1.35" stroke-dasharray="4,3.3"/>
<g clip-path="url(#cr)"><polyline points="4.4,340.5 14.0,334.1 22.9,332.9 30.5,322.7 38.1,325.7 45.7,330.3 54.6,336.7 63.5,343.5 72.4,346.3 81.3,344.8 88.9,344.3 97.8,346.3 106.7,349.4 114.3,345.0 123.2,346.1 132.0,347.6 140.9,347.3 147.3,349.4 157.4,363.3 166.3,358.8 175.2,354.4 182.8,355.2 190.5,350.6 199.3,338.4 208.2,333.4 215.8,336.7 224.7,332.1 233.6,332.9 242.5,333.4 250.1,330.3 258.9,332.3 266.5,329.8 275.4,333.6 284.3,324.0 293.2,320.7 300.8,322.2 309.7,321.4 317.3,329.8 326.2,326.0 335.1,323.2 342.7,318.4 351.6,331.6 360.5,336.7 369.3,334.9 377.0,332.3 385.9,335.4 393.5,337.9 402.4,340.5 411.3,337.9 418.9,334.9 427.8,336.2 436.6,343.0 445.5,339.7 453.1,336.2 460.8,332.9 469.7,333.4 478.5,332.3 487.4,334.9 495.0,337.4 503.9,340.5 511.4,341.0 520.3,334.6 529.2,338.4 538.1,339.7 545.7,340.5 554.6,337.9 563.5,341.0 571.1,339.7 580.0,345.0 588.9,342.5 596.5,343.0 605.4,338.7 614.3,341.7 623.2,344.3 632.0,343.5 642.2,343.0 654.9,342.2 663.8,330.3 672.7,326.5 680.3,332.1 688.4,324.7 696.8,332.9 705.7,331.6 714.6,330.3 723.5,334.9 731.1,332.3 740.0,333.4 748.9,335.4 757.6,340.0 765.2,346.8 774.1,344.8 781.7,341.2 790.6,356.2 799.5,357.5 806.4,357.7 816.0,348.6 823.6,345.0 831.8,348.1 840.7,342.5 849.0,345.6 857.9,348.6 865.5,342.2 874.4,343.0 883.3,345.0 891.4,345.6" fill="none" stroke="#b04f1f" stroke-width="1"/></g>
<text x="10.4" y="332.0" font-size="8.5" fill="#c3c6ce" font-weight="normal" text-anchor="start" textLength="52.6" lengthAdjust="spacingAndGlyphs" stroke="#c3c6ce" stroke-width="0.2">RSI (14, close)</text>
<g clip-path="url(#cd)">
<rect x="1.6" y="380.6" width="7.3" height="3.8" fill="#b2dfdb"/>
<rect x="10.0" y="380.1" width="7.3" height="4.3" fill="#b2dfdb"/>
<rect x="18.4" y="381.1" width="7.3" height="3.3" fill="#b2dfdb"/>
<rect x="26.9" y="376.5" width="7.3" height="7.9" fill="#26a69a"/>
<rect x="35.3" y="375.5" width="7.3" height="8.9" fill="#26a69a"/>
<rect x="43.8" y="377.3" width="7.3" height="7.1" fill="#b2dfdb"/>
<rect x="52.2" y="380.3" width="7.3" height="4.1" fill="#b2dfdb"/>
<rect x="60.7" y="384.0" width="7.3" height="0.6" fill="#b2dfdb"/>
<rect x="69.1" y="384.4" width="7.3" height="2.6" fill="#ef5350"/>
<rect x="77.6" y="384.4" width="7.3" height="3.8" fill="#ef5350"/>
<rect x="86.0" y="384.4" width="7.3" height="5.1" fill="#ef5350"/>
<rect x="94.4" y="384.4" width="7.3" height="6.4" fill="#ef5350"/>
<rect x="102.9" y="384.4" width="7.3" height="7.6" fill="#ef5350"/>
<rect x="111.3" y="384.4" width="7.3" height="6.9" fill="#ffcdd2"/>
<rect x="119.8" y="384.4" width="7.3" height="6.4" fill="#ffcdd2"/>
<rect x="128.2" y="384.4" width="7.3" height="6.4" fill="#ffcdd2"/>
<rect x="136.7" y="384.4" width="7.3" height="5.8" fill="#ffcdd2"/>
<rect x="145.1" y="384.4" width="7.3" height="5.6" fill="#ffcdd2"/>
<rect x="153.6" y="384.4" width="7.3" height="10.6" fill="#ef5350"/>
<rect x="162.0" y="384.4" width="7.3" height="11.9" fill="#ef5350"/>
<rect x="170.4" y="384.4" width="7.3" height="11.4" fill="#ffcdd2"/>
<rect x="178.9" y="384.4" width="7.3" height="10.6" fill="#ffcdd2"/>
<rect x="187.3" y="384.4" width="7.3" height="8.6" fill="#ffcdd2"/>
<rect x="195.8" y="384.4" width="7.3" height="2.6" fill="#ffcdd2"/>
<rect x="204.2" y="382.4" width="7.3" height="2.0" fill="#26a69a"/>
<rect x="212.7" y="379.0" width="7.3" height="5.4" fill="#26a69a"/>
<rect x="221.1" y="376.5" width="7.3" height="7.9" fill="#26a69a"/>
<rect x="229.6" y="375.0" width="7.3" height="9.4" fill="#26a69a"/>
<rect x="238.0" y="374.7" width="7.3" height="9.7" fill="#26a69a"/>
<rect x="246.5" y="374.5" width="7.3" height="9.9" fill="#26a69a"/>
<rect x="254.9" y="374.0" width="7.3" height="10.4" fill="#b2dfdb"/>
<rect x="263.3" y="374.8" width="7.3" height="9.6" fill="#b2dfdb"/>
<rect x="271.8" y="376.0" width="7.3" height="8.4" fill="#b2dfdb"/>
<rect x="280.2" y="374.0" width="7.3" height="10.4" fill="#26a69a"/>
<rect x="288.7" y="371.7" width="7.3" height="12.7" fill="#26a69a"/>
<rect x="297.1" y="370.4" width="7.3" height="14.0" fill="#26a69a"/>
<rect x="305.6" y="371.2" width="7.3" height="13.2" fill="#b2dfdb"/>
<rect x="314.0" y="374.2" width="7.3" height="10.2" fill="#b2dfdb"/>
<rect x="322.5" y="375.0" width="7.3" height="9.4" fill="#b2dfdb"/>
<rect x="330.9" y="374.8" width="7.3" height="9.6" fill="#26a69a"/>
<rect x="339.4" y="372.7" width="7.3" height="11.7" fill="#26a69a"/>
<rect x="347.8" y="376.8" width="7.3" height="7.6" fill="#b2dfdb"/>
<rect x="356.2" y="381.1" width="7.3" height="3.3" fill="#b2dfdb"/>
<rect x="364.7" y="383.4" width="7.3" height="1.0" fill="#b2dfdb"/>
<rect x="373.1" y="383.9" width="7.3" height="0.5" fill="#b2dfdb"/>
<rect x="381.6" y="384.4" width="7.3" height="0.6" fill="#ef5350"/>
<rect x="390.0" y="384.4" width="7.3" height="3.1" fill="#ef5350"/>
<rect x="398.5" y="384.4" width="7.3" height="5.6" fill="#ef5350"/>
<rect x="406.9" y="384.4" width="7.3" height="6.6" fill="#ef5350"/>
<rect x="415.4" y="384.4" width="7.3" height="5.3" fill="#ffcdd2"/>
<rect x="423.8" y="384.4" width="7.3" height="5.3" fill="#ffcdd2"/>
<rect x="432.2" y="384.4" width="7.3" height="7.9" fill="#ef5350"/>
<rect x="440.7" y="384.4" width="7.3" height="7.6" fill="#ef5350"/>
<rect x="449.1" y="384.4" width="7.3" height="6.4" fill="#ffcdd2"/>
<rect x="457.6" y="384.4" width="7.3" height="3.6" fill="#ffcdd2"/>
<rect x="466.0" y="384.4" width="7.3" height="2.0" fill="#ffcdd2"/>
<rect x="474.5" y="384.4" width="7.3" height="0.8" fill="#ffcdd2"/>
<rect x="482.9" y="384.4" width="7.3" height="1.0" fill="#ef5350"/>
<rect x="491.4" y="384.4" width="7.3" height="1.6" fill="#ef5350"/>
<rect x="499.8" y="384.4" width="7.3" height="3.1" fill="#ef5350"/>
<rect x="508.3" y="384.4" width="7.3" height="4.3" fill="#ef5350"/>
<rect x="516.7" y="384.4" width="7.3" height="2.6" fill="#ffcdd2"/>
<rect x="525.1" y="384.4" width="7.3" height="2.6" fill="#ef5350"/>
<rect x="533.6" y="384.4" width="7.3" height="3.6" fill="#ef5350"/>
<rect x="542.0" y="384.4" width="7.3" height="3.6" fill="#ef5350"/>
<rect x="550.5" y="384.4" width="7.3" height="3.6" fill="#ffcdd2"/>
<rect x="558.9" y="384.4" width="7.3" height="3.1" fill="#ef5350"/>
<rect x="567.4" y="384.4" width="7.3" height="3.6" fill="#ffcdd2"/>
<rect x="575.8" y="384.4" width="7.3" height="5.1" fill="#ef5350"/>
<rect x="584.3" y="384.4" width="7.3" height="5.1" fill="#ef5350"/>
<rect x="592.7" y="384.4" width="7.3" height="5.1" fill="#ef5350"/>
<rect x="601.1" y="384.4" width="7.3" height="3.6" fill="#ffcdd2"/>
<rect x="609.6" y="384.4" width="7.3" height="2.6" fill="#ffcdd2"/>
<rect x="618.0" y="384.4" width="7.3" height="3.1" fill="#ef5350"/>
<rect x="626.5" y="384.4" width="7.3" height="3.6" fill="#ffcdd2"/>
<rect x="634.9" y="384.4" width="7.3" height="3.6" fill="#ffcdd2"/>
<rect x="643.4" y="384.4" width="7.3" height="3.1" fill="#ffcdd2"/>
<rect x="651.8" y="384.4" width="7.3" height="2.3" fill="#ffcdd2"/>
<rect x="660.3" y="383.9" width="7.3" height="0.5" fill="#26a69a"/>
<rect x="668.7" y="381.9" width="7.3" height="2.5" fill="#26a69a"/>
<rect x="677.2" y="381.1" width="7.3" height="3.3" fill="#26a69a"/>
<rect x="685.6" y="378.6" width="7.3" height="5.8" fill="#26a69a"/>
<rect x="694.0" y="378.6" width="7.3" height="5.8" fill="#b2dfdb"/>
<rect x="702.5" y="378.8" width="7.3" height="5.6" fill="#b2dfdb"/>
<rect x="710.9" y="379.3" width="7.3" height="5.1" fill="#b2dfdb"/>
<rect x="719.4" y="380.9" width="7.3" height="3.5" fill="#b2dfdb"/>
<rect x="727.8" y="380.9" width="7.3" height="3.5" fill="#b2dfdb"/>
<rect x="736.3" y="382.1" width="7.3" height="2.3" fill="#b2dfdb"/>
<rect x="744.7" y="382.9" width="7.3" height="1.5" fill="#b2dfdb"/>
<rect x="753.2" y="384.1" width="7.3" height="0.6" fill="#b2dfdb"/>
<rect x="761.6" y="384.4" width="7.3" height="3.1" fill="#ef5350"/>
<rect x="770.0" y="384.4" width="7.3" height="4.6" fill="#ef5350"/>
<rect x="778.5" y="384.4" width="7.3" height="4.6" fill="#ef5350"/>
<rect x="786.9" y="384.4" width="7.3" height="8.6" fill="#ef5350"/>
<rect x="795.4" y="384.4" width="7.3" height="11.4" fill="#ef5350"/>
<rect x="803.8" y="384.4" width="7.3" height="11.9" fill="#ef5350"/>
<rect x="812.3" y="384.4" width="7.3" height="10.6" fill="#ffcdd2"/>
<rect x="820.7" y="384.4" width="7.3" height="7.4" fill="#ffcdd2"/>
<rect x="829.2" y="384.4" width="7.3" height="7.4" fill="#ffcdd2"/>
<rect x="837.6" y="384.4" width="7.3" height="4.3" fill="#ffcdd2"/>
<rect x="846.1" y="384.4" width="7.3" height="3.8" fill="#ffcdd2"/>
<rect x="854.5" y="384.4" width="7.3" height="3.8" fill="#ffcdd2"/>
<rect x="862.9" y="384.4" width="7.3" height="1.8" fill="#ffcdd2"/>
<rect x="871.4" y="384.4" width="7.3" height="1.0" fill="#b9a5a8"/>
<polyline points="4.4,374.8 20.3,372.2 30.5,366.4 38.1,362.5 50.8,362.5 63.5,368.9 76.2,374.8 88.9,379.8 101.6,383.6 114.3,385.4 127.0,386.2 142.2,388.7 152.4,393.8 162.5,399.4 172.7,402.7 182.8,404.7 190.5,404.5 200.6,397.6 210.8,391.3 223.5,384.9 236.2,378.1 248.9,373.5 265.2,369.7 275.4,367.9 283.0,364.0 300.0,357.0 340.0,350.0 380.0,352.0 415.0,358.0 430.3,364.0 437.9,367.1 453.1,368.4 465.8,366.4 478.5,364.6 491.2,365.9 503.9,368.9 510.2,370.4 525.4,370.4 545.7,373.0 566.0,375.5 581.3,378.6 596.5,381.1 609.2,380.6 627.0,382.9 647.3,383.6 657.4,383.1 670.1,377.3 680.3,375.5 690.5,370.9 710.8,368.4 728.5,368.4 746.3,368.9 760.2,372.2 772.9,376.5 781.7,377.3 790.6,383.6 800.8,390.0 810.9,393.8 823.6,394.3 836.3,392.5 849.0,392.5 859.2,393.3 869.4,391.8 882.0,390.8 891.4,390.5" fill="none" stroke="#1f8ae0" stroke-width="1"/>
<polyline points="4.4,378.1 20.3,374.8 38.1,371.0 55.9,369.7 71.1,371.0 88.9,374.0 106.7,378.1 127.0,382.4 144.7,384.4 157.4,387.5 170.1,391.8 182.8,395.6 195.5,397.6 205.7,397.1 218.4,395.1 233.6,390.8 248.9,386.2 265.2,379.8 280.5,374.8 295.7,368.9 309.7,364.0 340.0,356.0 390.0,352.0 440.0,357.0 478.5,364.0 493.8,364.9 515.2,367.1 535.6,368.9 555.9,370.9 576.2,373.5 596.5,376.5 616.8,378.6 637.1,381.1 657.4,381.9 672.7,379.8 690.5,377.3 710.8,374.0 728.5,371.5 743.8,370.4 765.2,371.5 780.5,373.5 795.7,377.3 810.9,382.4 826.2,386.2 841.4,388.7 856.7,390.8 871.9,390.8 891.4,390.5" fill="none" stroke="#d06c1c" stroke-width="1"/>
<text x="10.4" y="379.0" font-size="8.5" fill="#c3c6ce" font-weight="normal" text-anchor="start" textLength="88.6" lengthAdjust="spacingAndGlyphs" stroke="#c3c6ce" stroke-width="0.2">MACD (12, 26, close, 9)</text>
</g>
<g stroke="#4c505c" stroke-width="1">
<line x1="4.4" y1="317.5" x2="1019.3" y2="317.5"/>
<line x1="4.4" y1="364.2" x2="1019.3" y2="364.2"/>
<line x1="4.4" y1="410.1" x2="1019.3" y2="410.1"/>
<line x1="978.4" y1="29.5" x2="978.4" y2="428.8"/>
<line x1="106.9" y1="410.1" x2="106.9" y2="412.6"/>
<line x1="208.3" y1="410.1" x2="208.3" y2="412.6"/>
<line x1="309.6" y1="410.1" x2="309.6" y2="412.6"/>
<line x1="411.0" y1="410.1" x2="411.0" y2="412.6"/>
<line x1="512.3" y1="410.1" x2="512.3" y2="412.6"/>
<line x1="613.6" y1="410.1" x2="613.6" y2="412.6"/>
<line x1="715.0" y1="410.1" x2="715.0" y2="412.6"/>
<line x1="816.3" y1="410.1" x2="816.3" y2="412.6"/>
<line x1="917.7" y1="410.1" x2="917.7" y2="412.6"/>
<line x1="978.4" y1="52.8" x2="981.6" y2="52.8"/>
<line x1="978.4" y1="83.2" x2="981.6" y2="83.2"/>
<line x1="978.4" y1="113.5" x2="981.6" y2="113.5"/>
<line x1="978.4" y1="143.9" x2="981.6" y2="143.9"/>
<line x1="978.4" y1="174.2" x2="981.6" y2="174.2"/>
<line x1="978.4" y1="204.6" x2="981.6" y2="204.6"/>
<line x1="978.4" y1="234.9" x2="981.6" y2="234.9"/>
<line x1="978.4" y1="265.3" x2="981.6" y2="265.3"/>
<line x1="978.4" y1="295.6" x2="981.6" y2="295.6"/>
</g>
<text x="984.5" y="56.0" font-size="8.8" fill="#c9ccd3" font-weight="normal" text-anchor="start" textLength="24.3" lengthAdjust="spacingAndGlyphs" stroke="#c9ccd3" stroke-width="0.2">0.2300</text>
<text x="984.5" y="86.4" font-size="8.8" fill="#c9ccd3" font-weight="normal" text-anchor="start" textLength="24.3" lengthAdjust="spacingAndGlyphs" stroke="#c9ccd3" stroke-width="0.2">0.2280</text>
<text x="984.5" y="147.1" font-size="8.8" fill="#c9ccd3" font-weight="normal" text-anchor="start" textLength="24.3" lengthAdjust="spacingAndGlyphs" stroke="#c9ccd3" stroke-width="0.2">0.2240</text>
<text x="984.5" y="177.4" font-size="8.8" fill="#c9ccd3" font-weight="normal" text-anchor="start" textLength="24.3" lengthAdjust="spacingAndGlyphs" stroke="#c9ccd3" stroke-width="0.2">0.2220</text>
<text x="984.5" y="207.8" font-size="8.8" fill="#c9ccd3" font-weight="normal" text-anchor="start" textLength="24.3" lengthAdjust="spacingAndGlyphs" stroke="#c9ccd3" stroke-width="0.2">0.2200</text>
<text x="984.5" y="238.1" font-size="8.8" fill="#c9ccd3" font-weight="normal" text-anchor="start" textLength="24.3" lengthAdjust="spacingAndGlyphs" stroke="#c9ccd3" stroke-width="0.2">0.2180</text>
<text x="984.5" y="268.5" font-size="8.8" fill="#c9ccd3" font-weight="normal" text-anchor="start" textLength="24.3" lengthAdjust="spacingAndGlyphs" stroke="#c9ccd3" stroke-width="0.2">0.2160</text>
<text x="984.5" y="298.8" font-size="8.8" fill="#c9ccd3" font-weight="normal" text-anchor="start" textLength="24.3" lengthAdjust="spacingAndGlyphs" stroke="#c9ccd3" stroke-width="0.2">0.2140</text>
<g>
<rect x="934.9" y="57.8" width="79.7" height="12.0" fill="#1d9191"/>
<text x="940.6" y="66.9" font-size="8.5" fill="#eef" font-weight="normal" text-anchor="start" textLength="34.2" lengthAdjust="spacingAndGlyphs" stroke="#eef" stroke-width="0.2">BB:Upper</text>
<line x1="979.0" y1="64.1" x2="982.0" y2="64.1" stroke="#eef" stroke-width="1"/>
<text x="984.5" y="66.9" font-size="8.5" fill="#eef" font-weight="normal" text-anchor="start" textLength="24.3" lengthAdjust="spacingAndGlyphs" stroke="#eef" stroke-width="0.2">0.2293</text>
</g>
<g>
<rect x="959.0" y="101.1" width="55.6" height="12.4" fill="#fbc12d"/>
<text x="964.5" y="110.4" font-size="8.5" fill="#2c2608" font-weight="normal" text-anchor="start" textLength="10.3" lengthAdjust="spacingAndGlyphs" stroke="#2c2608" stroke-width="0.2">MA</text>
<line x1="979.0" y1="107.6" x2="982.0" y2="107.6" stroke="#2c2608" stroke-width="1"/>
<text x="984.5" y="110.4" font-size="8.5" fill="#2c2608" font-weight="normal" text-anchor="start" textLength="24.3" lengthAdjust="spacingAndGlyphs" stroke="#2c2608" stroke-width="0.2">0.2264</text>
</g>
<g>
<rect x="939.1" y="113.5" width="75.5" height="11.7" fill="#8c2222"/>
<text x="944.5" y="122.4" font-size="8.5" fill="#fff" font-weight="normal" text-anchor="start" textLength="30.3" lengthAdjust="spacingAndGlyphs" stroke="#fff" stroke-width="0.2">BB:Basis</text>
<line x1="979.0" y1="119.6" x2="982.0" y2="119.6" stroke="#fff" stroke-width="1"/>
<text x="984.5" y="122.4" font-size="8.5" fill="#fff" font-weight="normal" text-anchor="start" textLength="24.3" lengthAdjust="spacingAndGlyphs" stroke="#fff" stroke-width="0.2">0.2260</text>
</g>
<g>
<rect x="941.1" y="125.2" width="73.5" height="12.4" fill="#ef5350"/>
<text x="946.5" y="134.5" font-size="8.5" fill="#fff" font-weight="normal" text-anchor="start" textLength="28.3" lengthAdjust="spacingAndGlyphs" stroke="#fff" stroke-width="0.2">XRPUSD</text>
<line x1="979.0" y1="131.7" x2="982.0" y2="131.7" stroke="#fff" stroke-width="1"/>
<text x="984.5" y="134.5" font-size="8.5" fill="#fff" font-weight="normal" text-anchor="start" textLength="24.3" lengthAdjust="spacingAndGlyphs" stroke="#fff" stroke-width="0.2">0.2254</text>
</g>
<rect x="986.4" y="138.4" width="28.2" height="11.9" fill="#ef5350"/>
<text x="989.1" y="147.6" font-size="8.5" fill="#fff" font-weight="normal" text-anchor="start" textLength="19.6" lengthAdjust="spacingAndGlyphs" stroke="#fff" stroke-width="0.2">13:12</text>
<g>
<rect x="935.1" y="155.5" width="79.5" height="11.8" fill="#1d9191"/>
<text x="940.8" y="164.5" font-size="8.5" fill="#eef" font-weight="normal" text-anchor="start" textLength="33.4" lengthAdjust="spacingAndGlyphs" stroke="#eef" stroke-width="0.2">BB:Lower</text>
<line x1="979.0" y1="161.7" x2="982.0" y2="161.7" stroke="#eef" stroke-width="1"/>
<text x="984.5" y="164.5" font-size="8.5" fill="#eef" font-weight="normal" text-anchor="start" textLength="24.3" lengthAdjust="spacingAndGlyphs" stroke="#eef" stroke-width="0.2">0.2228</text>
</g>
<g>
<rect x="959.0" y="183.2" width="55.6" height="12.2" fill="#26c6da"/>
<text x="964.7" y="192.4" font-size="8.5" fill="#103238" font-weight="normal" text-anchor="start" textLength="9.8" lengthAdjust="spacingAndGlyphs" stroke="#103238" stroke-width="0.2">MA</text>
<line x1="979.0" y1="189.6" x2="982.0" y2="189.6" stroke="#103238" stroke-width="1"/>
<text x="984.5" y="192.4" font-size="8.5" fill="#103238" font-weight="normal" text-anchor="start" textLength="24.3" lengthAdjust="spacingAndGlyphs" stroke="#103238" stroke-width="0.2">0.2210</text>
</g>
<g>
<rect x="958.0" y="339.3" width="52.6" height="12.2" fill="#f57c0a"/>
<text x="963.6" y="348.5" font-size="8.5" fill="#fff" font-weight="normal" text-anchor="start" textLength="11.0" lengthAdjust="spacingAndGlyphs" stroke="#fff" stroke-width="0.2">RSI</text>
<line x1="979.0" y1="345.7" x2="982.0" y2="345.7" stroke="#fff" stroke-width="1"/>
<text x="984.5" y="348.5" font-size="8.5" fill="#fff" font-weight="normal" text-anchor="start" textLength="20.4" lengthAdjust="spacingAndGlyphs" stroke="#fff" stroke-width="0.2">46.80</text>
</g>
<g>
<rect x="932.0" y="378.0" width="87.3" height="12.1" fill="#ffcdd2"/>
<text x="937.7" y="387.2" font-size="8.5" fill="#3a3a3a" font-weight="normal" text-anchor="start" textLength="36.6" lengthAdjust="spacingAndGlyphs" stroke="#3a3a3a" stroke-width="0.2">Histogram</text>
<line x1="979.0" y1="384.4" x2="982.0" y2="384.4" stroke="#3a3a3a" stroke-width="1"/>
<text x="985.0" y="387.2" font-size="8.5" fill="#3a3a3a" font-weight="normal" text-anchor="start" textLength="28.0" lengthAdjust="spacingAndGlyphs" stroke="#3a3a3a" stroke-width="0.2">−0.0000</text>
</g>
<g>
<rect x="947.9" y="390.1" width="71.4" height="12.1" fill="#ff6d00"/>
<text x="953.3" y="399.2" font-size="8.5" fill="#fff" font-weight="normal" text-anchor="start" textLength="21.0" lengthAdjust="spacingAndGlyphs" stroke="#fff" stroke-width="0.2">Signal</text>
<line x1="979.0" y1="396.4" x2="982.0" y2="396.4" stroke="#fff" stroke-width="1"/>
<text x="985.0" y="399.2" font-size="8.5" fill="#fff" font-weight="normal" text-anchor="start" textLength="28.0" lengthAdjust="spacingAndGlyphs" stroke="#fff" stroke-width="0.2">−0.0003</text>
</g>
<g clip-path="url(#cd)">
<rect x="948.9" y="402.6" width="70.4" height="12.0" fill="#2196f3"/>
<text x="954.3" y="411.7" font-size="8.5" fill="#fff" font-weight="normal" text-anchor="start" textLength="20.0" lengthAdjust="spacingAndGlyphs" stroke="#fff" stroke-width="0.2">MACD</text>
<line x1="979.0" y1="408.9" x2="982.0" y2="408.9" stroke="#fff" stroke-width="1"/>
<text x="985.0" y="411.7" font-size="8.5" fill="#fff" font-weight="normal" text-anchor="start" textLength="28.0" lengthAdjust="spacingAndGlyphs" stroke="#fff" stroke-width="0.2">−0.0004</text>
</g>
<line x1="4.4" y1="410.1" x2="1019.3" y2="410.1" stroke="#5f636e" stroke-width="1"/>
<line x1="978.4" y1="29.5" x2="978.4" y2="410.1" stroke="#8a8d96" stroke-opacity="0.45" stroke-width="1"/>
<g clip-path="url(#ca)">
<text x="0.6" y="423.4" font-size="8.5" fill="#c9ccd3" font-weight="normal" text-anchor="start" textLength="8.6" lengthAdjust="spacingAndGlyphs" stroke="#c9ccd3" stroke-width="0.2">27</text>
<text x="96.9" y="423.4" font-size="8.5" fill="#c9ccd3" font-weight="normal" text-anchor="start" textLength="20.0" lengthAdjust="spacingAndGlyphs" stroke="#c9ccd3" stroke-width="0.2">06:00</text>
<text x="198.3" y="423.4" font-size="8.5" fill="#c9ccd3" font-weight="normal" text-anchor="start" textLength="20.0" lengthAdjust="spacingAndGlyphs" stroke="#c9ccd3" stroke-width="0.2">12:00</text>
<text x="299.6" y="423.4" font-size="8.5" fill="#c9ccd3" font-weight="normal" text-anchor="start" textLength="20.0" lengthAdjust="spacingAndGlyphs" stroke="#c9ccd3" stroke-width="0.2">18:00</text>
<text x="406.8" y="423.4" font-size="8.5" fill="#c9ccd3" font-weight="normal" text-anchor="start" textLength="8.3" lengthAdjust="spacingAndGlyphs" stroke="#c9ccd3" stroke-width="0.2">28</text>
<text x="502.3" y="423.4" font-size="8.5" fill="#c9ccd3" font-weight="normal" text-anchor="start" textLength="20.0" lengthAdjust="spacingAndGlyphs" stroke="#c9ccd3" stroke-width="0.2">06:00</text>
<text x="603.6" y="423.4" font-size="8.5" fill="#c9ccd3" font-weight="normal" text-anchor="start" textLength="20.0" lengthAdjust="spacingAndGlyphs" stroke="#c9ccd3" stroke-width="0.2">12:00</text>
<text x="705.0" y="423.4" font-size="8.5" fill="#c9ccd3" font-weight="normal" text-anchor="start" textLength="20.0" lengthAdjust="spacingAndGlyphs" stroke="#c9ccd3" stroke-width="0.2">18:00</text>
<text x="812.2" y="423.4" font-size="8.5" fill="#c9ccd3" font-weight="normal" text-anchor="start" textLength="8.3" lengthAdjust="spacingAndGlyphs" stroke="#c9ccd3" stroke-width="0.2">29</text>
<text x="907.7" y="423.4" font-size="8.5" fill="#c9ccd3" font-weight="normal" text-anchor="start" textLength="20.0" lengthAdjust="spacingAndGlyphs" stroke="#c9ccd3" stroke-width="0.2">06:00</text>
</g>
<text x="4.1" y="445.2" font-size="9" fill="#333" font-weight="normal" text-anchor="start" textLength="49.2" lengthAdjust="spacingAndGlyphs" stroke="#333" stroke-width="0.2">Created with</text>
<g fill="#2196f3"><circle cx="58.8" cy="443.7" r="3.25"/><circle cx="62.8" cy="440.3" r="4.3"/><circle cx="68.6" cy="442.1" r="3.2"/><circle cx="70.4" cy="443.9" r="3.0"/><rect x="58.8" y="441" width="11.6" height="5.9"/></g><polyline points="57.1,444.4 62.3,440.1 66.6,444.1 71,439.7" fill="none" stroke="#fff" stroke-width="0.75"/><circle cx="62.3" cy="440.1" r="0.85" fill="#fff"/><circle cx="66.6" cy="444.1" r="0.85" fill="#fff"/>
<text x="74.9" y="445.2" font-size="9" fill="#3a9ff0" font-weight="normal" text-anchor="start" textLength="47.9" lengthAdjust="spacingAndGlyphs" stroke="#3a9ff0" stroke-width="0.2">TradingView</text>
</svg></body></html>
